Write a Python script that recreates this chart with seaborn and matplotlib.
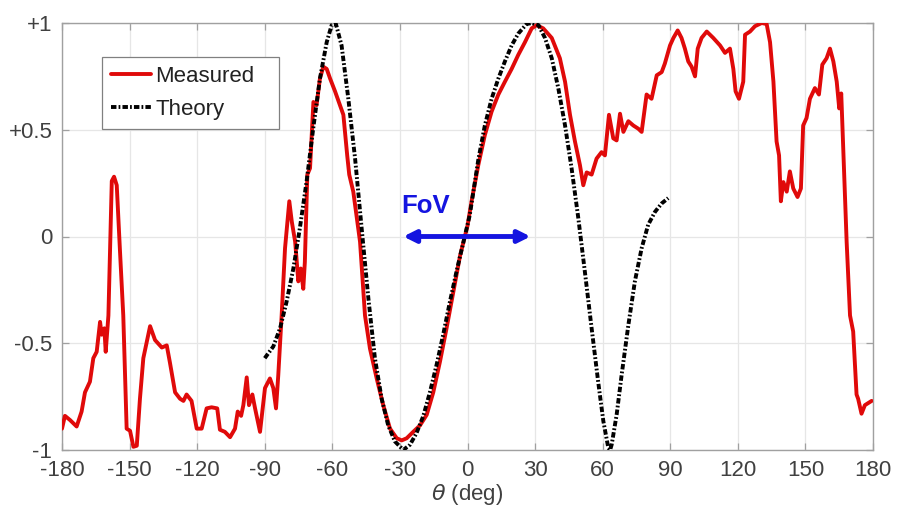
import matplotlib
matplotlib.use("Agg")
import matplotlib.pyplot as plt
import seaborn as sns
import pandas as pd

# ---- data ----
measured_theta = [-180, -178.7, -176.4, -173.5, -171.3, -169.8, -167.6, -166.1, -164.6, -163.1,
                  -162.4, -161.2, -160.6, -159.4, -157.9, -156.9, -155.7, -154.3, -152.8, -151.3,
                  -149.8, -148.3, -146.8, -145.4, -143.9, -140.9, -138.7, -135.7, -133.5, -132.1,
                  -129.8, -127.6, -126.1, -124.7, -122.5, -120.2, -118.0, -115.8, -113.6, -111.1,
                  -109.9, -107.7, -105.4, -103.2, -102.0, -100.5, -99.5, -98.0, -97.0, -95.5,
                  -94.3, -92.1, -89.9, -87.7, -86.2, -85.0, -84.0, -82.5, -81.0, -79.1,
                  -78.0, -76.5, -75.1, -74.0, -72.9, -72.2, -71.1, -69.9, -68.4, -67.0,
                  -65.5, -64.0, -62.5, -61.0, -58.8, -56.6, -55.1, -53.4, -52.5, -50.7,
                  -47.7, -45.5, -43.3, -40.3, -37.4, -34.4, -31.4, -29.2, -27.0, -24.1,
                  -21.1, -18.1, -15.2, -12.2, -9.3, -6.3, -3.3, 0.0, 1.8, 4.8,
                  7.7, 10.7, 13.7, 16.6, 19.6, 22.5, 25.5, 28.5, 30.7, 33.6,
                  37.4, 41.0, 43.3, 45.5, 47.7, 49.9, 51.4, 52.9, 55.1, 57.3,
                  59.5, 61.0, 62.8, 64.7, 66.2, 67.7, 69.2, 71.4, 73.6, 75.8,
                  77.3, 79.5, 81.7, 84.0, 86.2, 87.6, 89.9, 91.4, 93.3, 95.0,
                  96.5, 98.0, 99.5, 101.0, 102.2, 103.9, 106.2, 109.1, 112.1, 114.3,
                  116.5, 118.0, 119.0, 120.5, 122.4, 123.2, 125.4, 127.6, 130.6, 132.8,
                  134.3, 135.8, 137.2, 138.3, 139.1, 140.2, 141.7, 143.1, 144.6, 146.5,
                  148.0, 149.0, 150.5, 152.0, 154.2, 156.0, 157.5, 159.4, 160.9, 162.4,
                  163.9, 165.0, 165.9, 166.8, 168.3, 169.8, 171.2, 172.7, 173.4, 174.9,
                  176.4, 179.4]
measured_value = [-0.90, -0.84, -0.86, -0.89, -0.82, -0.73, -0.68, -0.57, -0.54, -0.40,
                  -0.46, -0.43, -0.54, -0.37, 0.26, 0.28, 0.24, -0.06, -0.37, -0.90,
                  -0.91, -0.985, -0.98, -0.76, -0.57, -0.42, -0.485, -0.52, -0.51, -0.59,
                  -0.73, -0.76, -0.77, -0.74, -0.77, -0.90, -0.90, -0.805, -0.80, -0.805,
                  -0.905, -0.915, -0.94, -0.90, -0.82, -0.84, -0.79, -0.66, -0.79, -0.74,
                  -0.805, -0.915, -0.71, -0.665, -0.71, -0.805, -0.65, -0.37, -0.055, 0.165,
                  0.07, -0.025, -0.21, -0.15, -0.245, -0.12, 0.29, 0.32, 0.63, 0.615,
                  0.74, 0.795, 0.785, 0.74, 0.68, 0.615, 0.57, 0.38, 0.29, 0.21,
                  -0.025, -0.37, -0.525, -0.665, -0.79, -0.90, -0.945, -0.955, -0.945, -0.915,
                  -0.885, -0.835, -0.73, -0.585, -0.43, -0.26, -0.09, 0.05, 0.165, 0.335,
                  0.475, 0.585, 0.665, 0.725, 0.785, 0.85, 0.91, 0.975, 0.99, 0.975,
                  0.93, 0.835, 0.725, 0.57, 0.445, 0.335, 0.24, 0.30, 0.29, 0.365,
                  0.395, 0.38, 0.57, 0.46, 0.45, 0.575, 0.49, 0.54, 0.52, 0.505,
                  0.49, 0.665, 0.645, 0.755, 0.77, 0.81, 0.895, 0.93, 0.965, 0.93,
                  0.88, 0.82, 0.795, 0.75, 0.88, 0.93, 0.96, 0.93, 0.895, 0.86,
                  0.88, 0.785, 0.68, 0.645, 0.725, 0.945, 0.96, 0.985, 1.0, 0.995,
                  0.91, 0.725, 0.445, 0.38, 0.165, 0.255, 0.21, 0.305, 0.225, 0.185,
                  0.225, 0.52, 0.555, 0.645, 0.695, 0.665, 0.805, 0.835, 0.88, 0.82,
                  0.725, 0.60, 0.67, 0.41, -0.025, -0.37, -0.445, -0.74, -0.76, -0.83,
                  -0.79, -0.77]

theory_theta = [-90, -86.2, -83.2, -80.3, -77.3, -74.4, -71.4, -68.5, -65.5, -62.5,
                -60.3, -58.4, -55.9, -52.9, -49.9, -47.0, -44.0, -41.1, -38.1, -35.2,
                -32.2, -28.5, -25.5, -22.6, -19.6, -16.7, -13.7, -10.8, -7.8, -4.8,
                -1.9, 1.0, 4.8, 7.7, 10.7, 13.7, 16.6, 19.6, 22.5, 26.2,
                28.5, 31.5, 34.4, 37.4, 40.3, 43.3, 46.2, 49.2, 52.1, 55.1,
                58.0, 60.3, 62.5, 63.3, 64.0, 66.2, 68.4, 71.4, 74.3, 77.3,
                80.2, 83.2, 86.2, 89.1]
theory_value = [-0.57, -0.515, -0.43, -0.305, -0.15, 0.04, 0.26, 0.505, 0.74, 0.91,
                0.99, 0.995, 0.895, 0.645, 0.365, 0.04, -0.29, -0.57, -0.76, -0.885,
                -0.96, -1.0, -0.975, -0.92, -0.84, -0.73, -0.60, -0.46, -0.305, -0.16,
                -0.03, 0.10, 0.36, 0.52, 0.645, 0.74, 0.82, 0.895, 0.95, 0.995,
                1.0, 0.99, 0.93, 0.835, 0.695, 0.52, 0.32, 0.085, -0.165, -0.43,
                -0.68, -0.865, -0.99, -1.0, -0.975, -0.835, -0.65, -0.415, -0.21, -0.055,
                0.055, 0.115, 0.155, 0.18]

x_ticks = [-180, -150, -120, -90, -60, -30, 0, 30, 60, 90, 120, 150, 180]
y_ticks = [-1, -0.5, 0, 0.5, 1]
y_tick_labels = ["-1", "-0.5", "0", "+0.5", "+1"]
series_labels = ["Measured", "Theory"]

# ---- plot ----
sns.set_theme(style="whitegrid")
plt.rcParams["font.family"] = ["Liberation Sans", "DejaVu Sans"]

fig = plt.figure(figsize=(8.98, 5.16), dpi=100)
ax = fig.add_axes([62 / 898, 1 - 450 / 516, 811 / 898, 427 / 516])

meas_df = pd.DataFrame({"theta": measured_theta, "value": measured_value})
theo_df = pd.DataFrame({"theta": theory_theta, "value": theory_value})

sns.lineplot(data=meas_df, x="theta", y="value", ax=ax, color="#e00a0a", lw=2.8,
             estimator=None, sort=False, label=series_labels[0], zorder=3)
sns.lineplot(data=theo_df, x="theta", y="value", ax=ax, color="black", lw=2.8,
             estimator=None, sort=False, label=series_labels[1], zorder=4)
ax.lines[1].set_dashes([1.4, 0.55, 0.45, 0.55])

ax.set_xlim(-180, 180)
ax.set_ylim(-1, 1)
ax.set_xticks(x_ticks)
ax.set_xticklabels([str(t) for t in x_ticks])
ax.set_yticks(y_ticks)
ax.set_yticklabels(y_tick_labels)

ax.grid(True, color="#e6e6e6", lw=0.9)
for s in ax.spines.values():
    s.set_visible(True)
    s.set_color("#a0a0a0")
    s.set_linewidth(1.0)
ax.tick_params(axis="both", which="both", direction="in", length=5, width=0.9,
               color="#a0a0a0", labelsize=16, labelcolor="#404040",
               top=True, right=True, bottom=True, left=True, pad=7)

ax.set_xlabel(r"$\theta$ (deg)", fontsize=16, color="#404040", labelpad=1)
ax.set_ylabel("")

# FoV annotation
ax.annotate("", xy=(-28.5, 0.0), xytext=(28.0, 0.0),
            arrowprops=dict(arrowstyle="<|-|>", color="#1414e0", lw=3.5,
                            mutation_scale=18, shrinkA=0, shrinkB=0), zorder=5)
ax.text(-29.5, 0.145, "FoV", color="#1414e0", fontsize=18.5, fontweight="bold",
        ha="left", va="center", zorder=6)

leg = ax.legend(loc="upper left", bbox_to_anchor=(0.049, 0.754, 0.219, 0.166),
                mode="expand", borderaxespad=0,
                fontsize=16, frameon=True, fancybox=False, framealpha=1,
                edgecolor="#808080", handlelength=1.8, handletextpad=0.2,
                labelspacing=0.55, borderpad=0.4)
leg.get_frame().set_linewidth(0.9)
for t in leg.get_texts():
    t.set_color("#222222")

fig.savefig("out.png", dpi=100)
